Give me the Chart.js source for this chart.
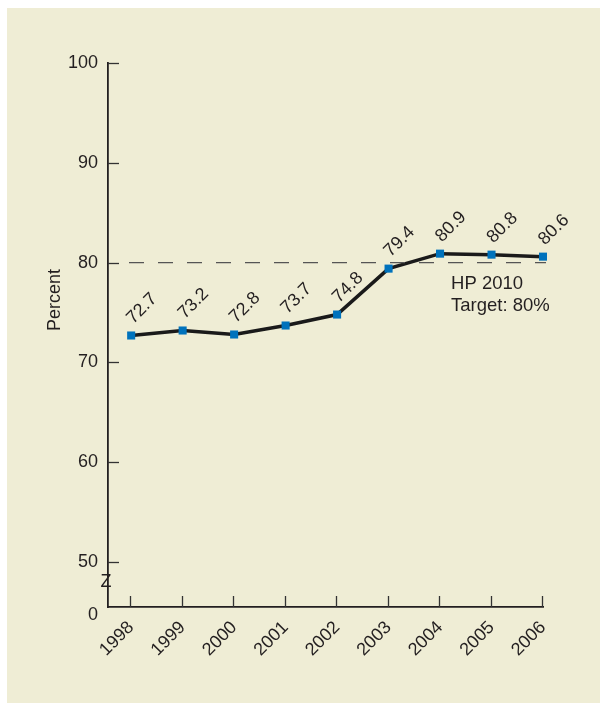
<!DOCTYPE html>
<html>
<head>
<meta charset="utf-8">
<script src="https://cdn.jsdelivr.net/npm/chart.js@4"></script>
<style>
html,body{margin:0;padding:0;background:#fff;}
#wrap{position:relative;width:600px;height:703px;}
</style>
</head>
<body>
<div id="wrap"><canvas id="c" width="600" height="703"></canvas></div>
<script>
const years = [1998, 1999, 2000, 2001, 2002, 2003, 2004, 2005, 2006];
const percentValues = [72.7, 73.2, 72.8, 73.7, 74.8, 79.4, 80.9, 80.8, 80.6];
const yTickValues = [50, 60, 70, 80, 90, 100];
const yZeroLabelValue = 44.7; // broken axis: "0" shown below the break
const targetValue = 80;
const targetLabel = ['HP 2010', 'Target: 80%'];
const yTitle = 'Percent';

const FONT = '"Liberation Sans", Arial, Helvetica, sans-serif';
const TXT = '#231f20';

const decor = {
  id: 'decor',
  beforeDraw(chart) {
    const ctx = chart.ctx;
    ctx.save();
    ctx.fillStyle = '#ffffff';
    ctx.fillRect(0, 0, chart.width, chart.height);
    ctx.fillStyle = '#efedd5';
    ctx.fillRect(7, 8, chart.width - 7, chart.height - 8);
    ctx.restore();
  },
  afterDraw(chart) {
    const ctx = chart.ctx;
    const xs = chart.scales.x, ys = chart.scales.y;
    const left = xs.left, bottom = ys.bottom;
    ctx.save();
    // target dashed line
    const ty = ys.getPixelForValue(targetValue);
    ctx.strokeStyle = '#555';
    ctx.lineWidth = 1.2;
    ctx.setLineDash([15, 14]);
    ctx.beginPath();
    ctx.moveTo(left + 21, ty);
    ctx.lineTo(xs.getPixelForValue(2006) + 3, ty);
    ctx.stroke();
    ctx.setLineDash([]);
    // y ticks (inward)
    ctx.strokeStyle = '#333';
    ctx.lineWidth = 1.3;
    yTickValues.forEach(v => {
      const py = Math.round(ys.getPixelForValue(v)) + 0.5;
      ctx.beginPath();
      ctx.moveTo(left, py);
      ctx.lineTo(left + 11, py);
      ctx.stroke();
    });
    // x ticks (upward)
    years.forEach(yr => {
      const px = Math.round(xs.getPixelForValue(yr)) - 0.5;
      ctx.beginPath();
      ctx.moveTo(px, bottom);
      ctx.lineTo(px, bottom - 11);
      ctx.stroke();
    });
    // break symbol
    ctx.fillStyle = TXT;
    ctx.font = '18px ' + FONT;
    ctx.textAlign = 'center';
    ctx.textBaseline = 'middle';
    ctx.fillText('Z', left - 2, ys.getPixelForValue(48.0));
    // y title
    ctx.font = '18px ' + FONT;
    ctx.translate(55, 300);
    ctx.rotate(-Math.PI / 2);
    ctx.fillText(yTitle, 0, 0);
    ctx.restore();

    // target label
    ctx.save();
    ctx.fillStyle = TXT;
    ctx.font = '18.5px ' + FONT;
    ctx.textAlign = 'left';
    ctx.textBaseline = 'middle';
    const lx = xs.getPixelForValue(2004) + 11;
    ctx.fillText(targetLabel[0], lx, ty + 21);
    ctx.fillText(targetLabel[1], lx, ty + 43);
    ctx.restore();

    // data labels
    const meta = chart.getDatasetMeta(0);
    ctx.save();
    ctx.fillStyle = TXT;
    ctx.font = '18px ' + FONT;
    ctx.textAlign = 'left';
    ctx.textBaseline = 'alphabetic';
    meta.data.forEach((pt, i) => {
      ctx.save();
      ctx.translate(pt.x + 2, pt.y - 11);
      ctx.rotate(-Math.PI / 4);
      ctx.fillText(percentValues[i].toFixed(1), 0, 0);
      ctx.restore();
    });
    ctx.restore();
  }
};

new Chart(document.getElementById('c'), {
  type: 'line',
  data: {
    datasets: [{
      data: years.map((y, i) => ({ x: y, y: percentValues[i] })),
      borderColor: '#1a1a1a',
      borderWidth: 3.5,
      tension: 0,
      pointStyle: 'rect',
      pointRadius: 5.7,
      pointBorderWidth: 0,
      pointBackgroundColor: '#0072bc',
      pointBorderColor: '#0072bc',
      clip: false
    }]
  },
  options: {
    responsive: false,
    animation: false,
    devicePixelRatio: 1,
    layout: { padding: { left: 0, top: 63, right: 57, bottom: 0 } },
    plugins: { legend: { display: false }, tooltip: { enabled: false } },
    scales: {
      x: {
        type: 'linear',
        min: 1997.55,
        max: 2006,
        afterBuildTicks: s => { s.ticks = years.map(v => ({ value: v })); },
        afterFit: s => { s.height = 96; s.paddingLeft = 0; s.paddingRight = 0; },
        grid: { drawOnChartArea: false, drawTicks: false },
        border: { display: true, color: '#231f20', width: 1.8 },
        ticks: {
          color: TXT,
          font: { family: FONT, size: 18 },
          minRotation: 45,
          maxRotation: 45,
          padding: 10,
          autoSkip: false,
          callback: v => String(v)
        }
      },
      y: {
        type: 'linear',
        min: 45.5,
        max: 100,
        afterBuildTicks: s => {
          s.ticks = [{ value: yZeroLabelValue }].concat(yTickValues.map(v => ({ value: v })));
        },
        afterFit: s => { s.width = 108; },
        grid: { drawOnChartArea: false, drawTicks: false },
        border: { display: true, color: '#231f20', width: 1.8 },
        ticks: {
          color: TXT,
          font: { family: FONT, size: 18 },
          padding: 10,
          autoSkip: false,
          callback: v => (v < 50 ? '0' : String(v))
        }
      }
    }
  },
  plugins: [decor]
});
</script>
</body>
</html>
